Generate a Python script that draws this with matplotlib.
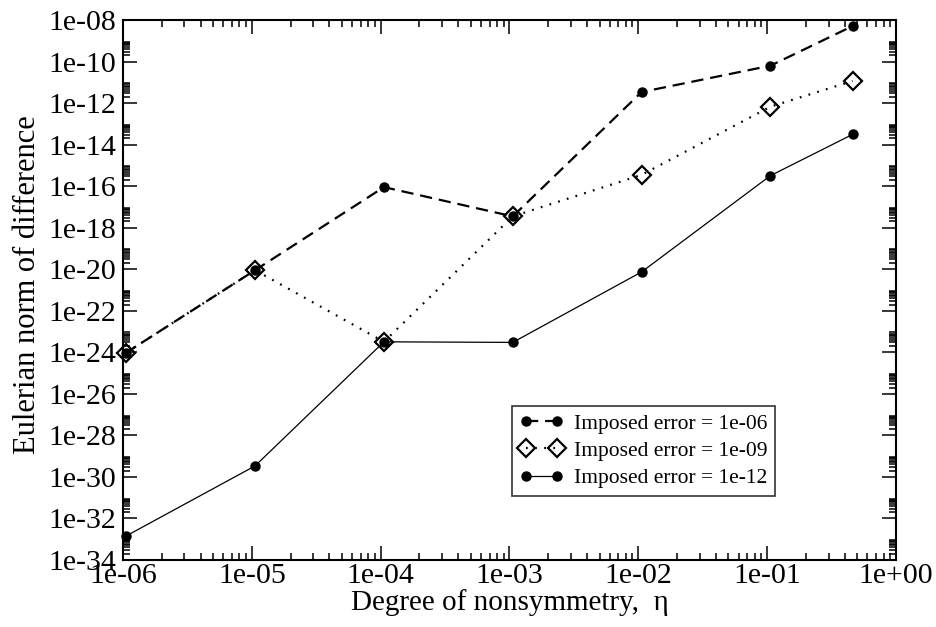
import matplotlib
matplotlib.use("Agg")
import matplotlib.pyplot as plt
from matplotlib.ticker import FixedLocator, FuncFormatter

plt.rcParams['font.family'] = ['Liberation Serif', 'DejaVu Serif']

eta = [1.05e-6, 1.06e-5, 1.06e-4, 1.06e-3, 1.06e-2, 1.06e-1, 0.46]
err_1e06 = [9.3e-25, 9.0e-21, 9.0e-17, 3.5e-18, 3.4e-12, 6.3e-11, 5.1e-9]
err_1e09 = [9.3e-25, 9.0e-21, 3.2e-24, 3.5e-18, 3.5e-16, 6.7e-13, 1.15e-11]
err_1e12 = [1.4e-33, 3.4e-30, 3.2e-24, 3.0e-24, 7.4e-21, 3.2e-16, 3.1e-14]
labels = ["Imposed error = 1e-06", "Imposed error = 1e-09", "Imposed error = 1e-12"]

fig = plt.figure(figsize=(9.37, 6.27), dpi=100)
ax = fig.add_axes([123/937, 1-560/627, 773/937, 540/627])

ax.plot(eta, err_1e06, color='black', lw=1.6, ls=(0, (5.5, 3.1)), marker='o', ms=6.5,
        mfc='black', mec='black', clip_on=False, zorder=3, label=labels[0])
ax.plot(eta, err_1e09, color='black', lw=1.6, ls=(0, (0.8, 3.3)), marker='D', ms=9.5,
        mfc='none', mec='black', mew=1.6, clip_on=False, zorder=4, label=labels[1])
ax.plot(eta, err_1e12, color='black', lw=0.9, ls='-', marker='o', ms=6.5,
        mfc='black', mec='black', clip_on=False, zorder=3, label=labels[2])

ax.set_xscale('log')
ax.set_yscale('log')
ax.set_xlim(1e-6, 1e0)
ax.set_ylim(1e-34, 1e-8)

xmaj = [10.0**e for e in range(-6, 1)]
ymaj = [10.0**e for e in range(-34, -7, 2)]
xmin = [k*10.0**e for e in range(-6, 0) for k in range(2, 10)]
ymin = [k*10.0**e for e in range(-34, -8, 2) for k in range(2, 10)]
ax.xaxis.set_major_locator(FixedLocator(xmaj))
ax.xaxis.set_minor_locator(FixedLocator(xmin))
ax.yaxis.set_major_locator(FixedLocator(ymaj))
ax.yaxis.set_minor_locator(FixedLocator(ymin))
fmt = FuncFormatter(lambda v, p: "%.0e" % v)
ax.xaxis.set_major_formatter(fmt)
ax.yaxis.set_major_formatter(fmt)
ax.xaxis.set_minor_formatter(FuncFormatter(lambda v, p: ""))
ax.yaxis.set_minor_formatter(FuncFormatter(lambda v, p: ""))

ax.tick_params(which='both', direction='in', top=True, right=True, width=1.1, labelsize=21.5)
ax.tick_params(which='major', length=10)
ax.tick_params(which='minor', length=5.2)
ax.tick_params(axis='y', which='major', pad=5)
ax.tick_params(axis='x', which='major', pad=2)
for s in ax.spines.values():
    s.set_linewidth(1.5)

ax.set_xlabel("Degree of nonsymmetry,  η", fontsize=21, labelpad=0)
ax.set_ylabel("Eulerian norm of difference", fontsize=22)
ax.yaxis.set_label_coords(-0.105, 0.51)

leg = ax.legend(loc='upper left', bbox_to_anchor=((512-123)/773, (560-406)/540),
                numpoints=2, fontsize=15.5, frameon=True, fancybox=False,
                edgecolor='black', handlelength=2.05, handletextpad=0.5,
                borderpad=0.35, labelspacing=0.34, borderaxespad=0, shadow=False)
leg.get_frame().set_linewidth(1.2)

fig.savefig("out.png", dpi=100)
